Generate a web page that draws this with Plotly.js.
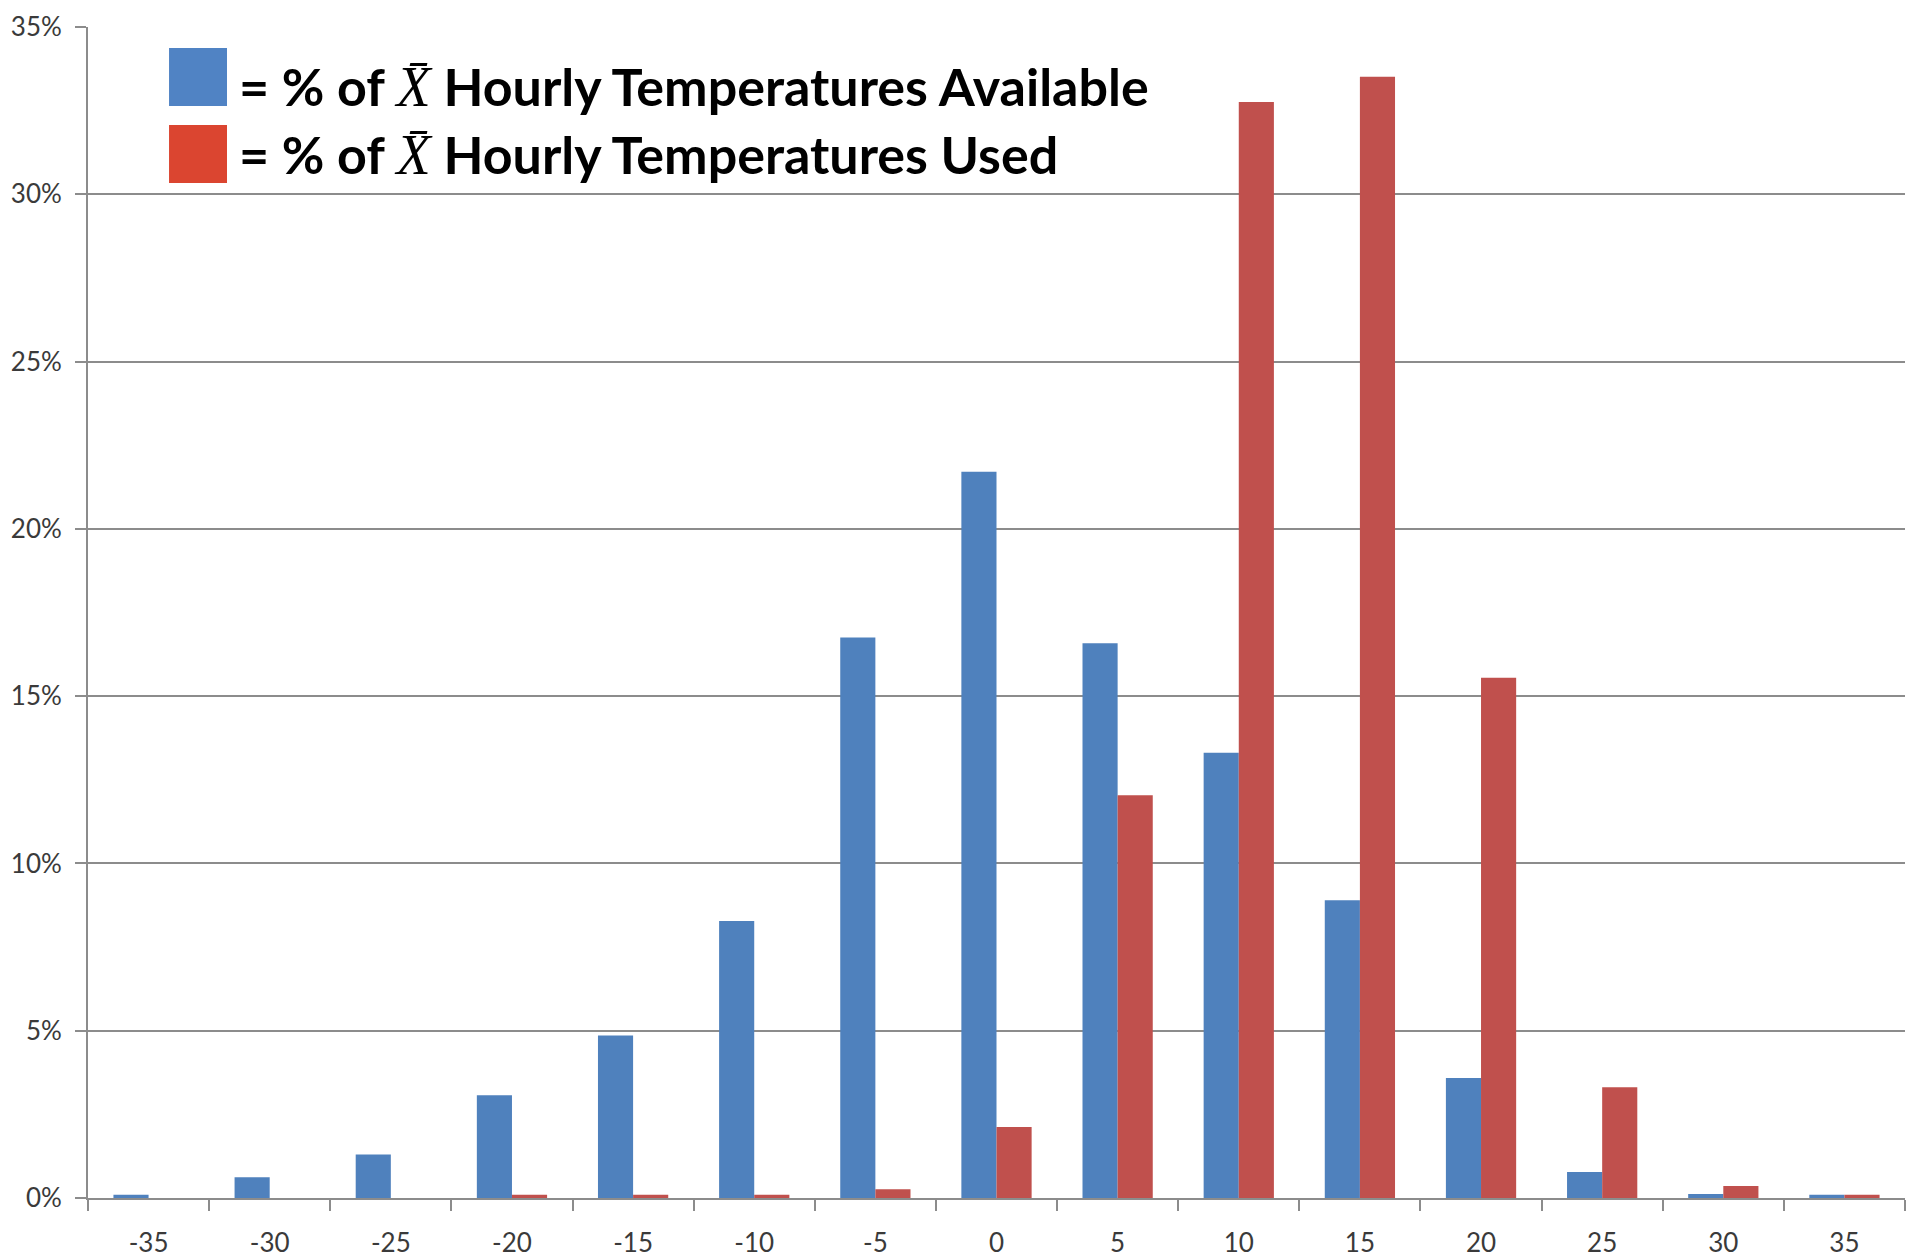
<!DOCTYPE html>
<html>
<head>
<meta charset="utf-8">
<script src="https://cdn.plot.ly/plotly-3.0.1.min.js"></script>
<style>
  html, body { margin: 0; padding: 0; background: #ffffff; }
  #chart { width: 1915px; height: 1259px; }
</style>
</head>
<body>
<div id="chart"></div>
<script>
// Temperature bins (x categories)
const temps = ["-35", "-30", "-25", "-20", "-15", "-10", "-5", "0", "5", "10", "15", "20", "25", "30", "35"];
// % of X̄ hourly temperatures available
const available = [0.1, 0.62, 1.3, 3.07, 4.86, 8.28, 16.75, 21.71, 16.58, 13.31, 8.9, 3.59, 0.78, 0.12, 0.1];
// % of X̄ hourly temperatures used
const used = [0, 0, 0, 0.1, 0.1, 0.1, 0.26, 2.12, 12.04, 32.76, 33.51, 15.55, 3.31, 0.36, 0.1];
// legend labels
const seriesNames = [
  "= % of X̄ Hourly Temperatures Available",
  "= % of X̄ Hourly Temperatures Used"
];
const barColors = ["#4F81BD", "#C0504D"];
const legendColors = ["#5083C4", "#DB4530"];

function legendText(name) {
  return name.replace("X̄", "<span style='font-family:\"Liberation Serif\",\"DejaVu Serif\",serif;font-weight:normal;font-size:56px'><i>X̄</i></span>");
}

const traces = [
  { type: "bar", x: temps, y: available, name: seriesNames[0],
    marker: { color: barColors[0] }, hoverinfo: "x+y" },
  { type: "bar", x: temps, y: used, name: seriesNames[1],
    marker: { color: barColors[1] }, hoverinfo: "x+y" }
];

const legendBoxes = [
  { y0: 0.9325, y1: 0.982 },
  { y0: 0.8668, y1: 0.9163 }
];
const textY = [0.9496, 0.8907];

const layout = {
  width: 1915, height: 1259,
  margin: { l: 88, r: 10, t: 27, b: 61 },
  paper_bgcolor: "#ffffff",
  plot_bgcolor: "#ffffff",
  showlegend: false,
  barmode: "group",
  bargap: 0.42,
  bargroupgap: 0,
  font: { family: "Lato, 'Open Sans', sans-serif", color: "#3a3a3a" },
  xaxis: {
    type: "category",
    tickson: "boundaries",
    ticks: "outside", ticklen: 11, tickwidth: 2, tickcolor: "#8c8c8c",
    showline: true, linecolor: "#8c8c8c", linewidth: 2,
    showgrid: false, zeroline: false,
    tickfont: { family: "Lato, sans-serif", size: 26, color: "#3a3a3a" },
    ticklabelstandoff: 21
  },
  yaxis: {
    range: [0, 35], dtick: 5, tick0: 0,
    ticksuffix: "%",
    ticks: "outside", ticklen: 11, tickwidth: 2, tickcolor: "#8c8c8c",
    showline: true, linecolor: "#8c8c8c", linewidth: 2,
    showgrid: true, gridcolor: "#8c8c8c", gridwidth: 2,
    zeroline: false,
    tickfont: { family: "Lato, sans-serif", size: 26, color: "#3a3a3a" },
    ticklabelstandoff: 8
  },
  shapes: legendBoxes.map((b, i) => ({
    type: "rect", xref: "paper", yref: "paper",
    x0: 0.0446, x1: 0.0765, y0: b.y0, y1: b.y1,
    fillcolor: legendColors[i], line: { width: 0 }
  })),
  annotations: seriesNames.map((n, i) => ({
    xref: "paper", yref: "paper",
    x: 0.082, y: textY[i], xanchor: "left", yanchor: "middle",
    showarrow: false,
    text: "<b>" + legendText(n) + "</b>",
    font: { family: "Lato, 'Open Sans', sans-serif", size: 52, color: "#000000" }
  }))
};

Plotly.newPlot("chart", traces, layout, { displayModeBar: false, staticPlot: true });
</script>
</body>
</html>
